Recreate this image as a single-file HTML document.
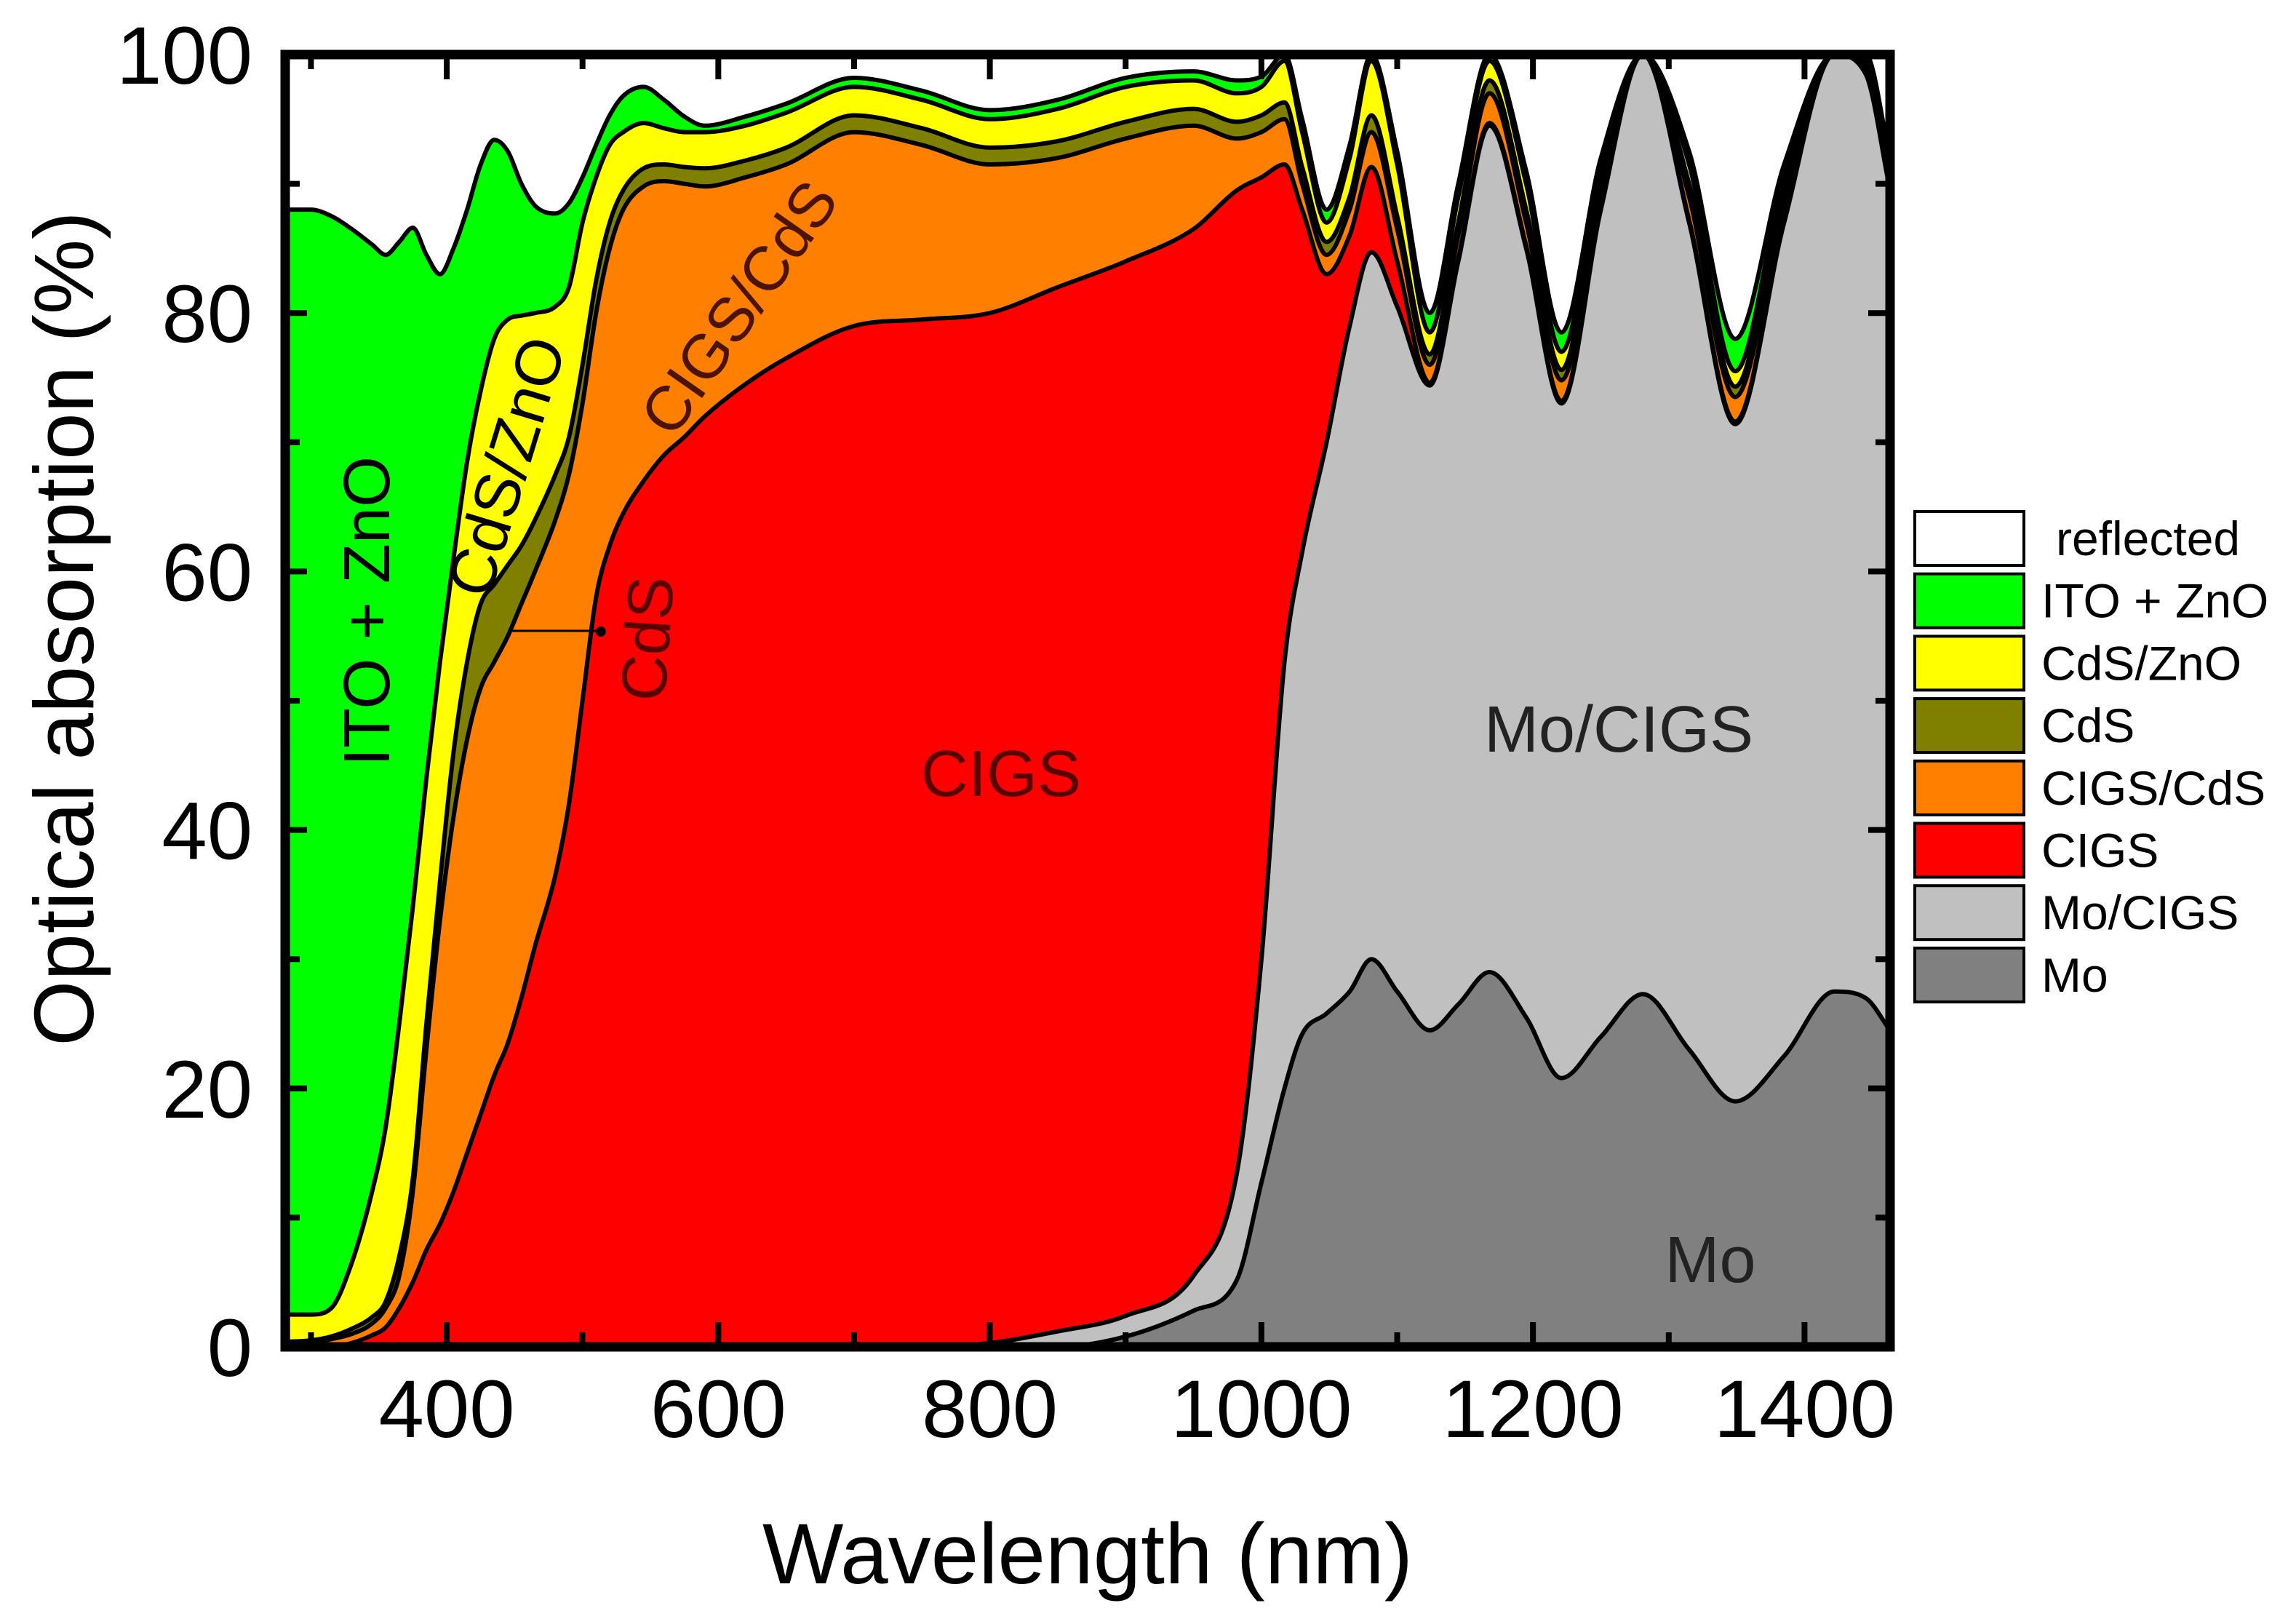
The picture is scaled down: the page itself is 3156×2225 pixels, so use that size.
<!DOCTYPE html>
<html><head><meta charset="utf-8"><style>
html,body{margin:0;padding:0;background:#fff;}
svg{display:block;font-family:"Liberation Sans",Arial,sans-serif;}
</style></head><body>
<svg id="chart" width="3156" height="2225" viewBox="0 0 3156 2225" xmlns="http://www.w3.org/2000/svg">
<defs><clipPath id="plotClip"><rect x="392" y="75" width="2206" height="1776"/></clipPath></defs>
<rect x="0" y="0" width="3156" height="2225" fill="#fff"/>
<g id="layers" clip-path="url(#plotClip)"></g>
<g id="annot">
  <text x="0" y="0" transform="translate(535,840) rotate(-90)" font-size="90" text-anchor="middle" fill="#000">ITO + ZnO</text>
  <text x="0" y="0" transform="translate(725,650) rotate(-73)" font-size="88" text-anchor="middle" fill="#000">CdS/ZnO</text>
  <text x="0" y="0" transform="translate(1040,440) rotate(-55)" font-size="86" text-anchor="middle" fill="#4a1400">CIGS/CdS</text>
  <text x="0" y="0" transform="translate(920,880) rotate(-86)" font-size="88" text-anchor="middle" fill="#5a0000">CdS</text>
  <line x1="702" y1="867" x2="822" y2="867" stroke="#000" stroke-width="3"/>
  <circle cx="826" cy="868" r="7" fill="#000"/>
  <text x="1376" y="1094" font-size="90" text-anchor="middle" fill="#5a0000">CIGS</text>
  <text x="2225" y="1033" font-size="90" text-anchor="middle" fill="#222">Mo/CIGS</text>
  <text x="2351" y="1762" font-size="90" text-anchor="middle" fill="#222">Mo</text>
</g>
<g id="axes"></g>
<text transform="translate(128,864) rotate(-90)" font-size="116" text-anchor="middle" fill="#000">Optical absorption (%)</text>
<text x="1495" y="2176" font-size="118" text-anchor="middle" fill="#000">Wavelength (nm)</text>
<g id="legend"></g>
</svg>
<script>
const wavelengths = [283,300,315,330,345,355,365,375,385,395,405,415,425,435,445,455,465,480,490,500,510,520,530,545,560,575,590,620,650,700,750,800,850,900,950,982,1000,1017,1030,1048,1065,1081,1100,1124,1145,1168,1195,1221,1250,1281,1315,1349,1385,1422,1445,1463];
const moTop = [0,0,0,0,0,0,0,0,0,0,0,0,0,0,0,0,0,0,0,0,0,0,0,0,0,0,0,0,0,0,0,0,0,0.8,2.8,5.2,12.7,20,24.2,25.8,27.5,30,27.5,24.5,26.5,29,25.5,20.8,24,27.3,23,19,22.5,27.5,27,24.5];
const moCigsTop = [0,0,0,0,0,0,0,0,0,0,0,0,0,0,0,0,0,0,0,0,0,0,0,0,0,0,0,0,0,0,0,0.3,1.2,2.4,5.5,13.5,30,53,61.5,70,79,84.7,80.5,74.4,84,94.5,85,73,88,100,87,71.4,87,100,98.5,89.5];
const cigsTop = [0,0,0,0.3,0.9,1.5,3,5,7.5,9.5,12,15,18,21,23.5,27,31,36.5,42,50,58,62,64.5,67,69,70.4,72,74.5,76.5,79,79.5,80,82,84,86.5,89.5,90.5,91.5,88,83,86,91.3,84,74.6,84.2,94.7,85.2,73.2,88.2,100,87.2,71.6,87.2,100,98.7,89.7];
const cigsCdsTop = [0.2,0.3,0.6,1.0,1.8,3,5.5,12,23,33,41,47,51,53,55,57.5,60,64,67.5,73,80,85,88,89.8,90.2,90,89.8,90.5,91.5,94,93,91.5,92,93.5,94.5,93.5,94,95,90,84.5,88,94,86.5,76,86,97,87,74.8,89,100,89,73.5,88.5,100,99,90];
const cdsTop = [0.4,0.5,0.8,1.4,2.3,3.5,7,13,25,36,46,53,57.5,59,60.5,62,64,67.5,70.4,76,82.5,87,89.5,91.2,91.5,91.3,91.2,91.8,92.8,95.3,94.3,92.8,93.3,94.8,95.8,94.8,95.3,96.3,91.3,85.5,89,95.3,87.5,76.8,87,98,88,75.6,90,100,90,74.3,89.5,100,99.5,90.5];
const cdsZnoTop = [2.5,2.5,3,6.5,12,17,25,34,44,53,61,68.5,74,78,79.5,79.8,80,80.5,82,87,90.5,93,94,94.7,94.3,94,94,94.5,95.5,97.5,96.5,95,95.8,97.5,98,97,97.5,99.5,94,87,92,99.5,91.5,78.5,89,99.5,90,77,91,100,91.5,75.5,90.5,100,100,91];
const itoZnoTop = [88,88,87.5,86.5,85.3,84.5,85.5,86.6,84.5,83,85,88,91.5,93.4,92.5,90,88.3,87.7,88.5,90.5,93,95.3,96.8,97.5,96.5,95.2,94.5,95.2,96.2,98.2,97.2,95.7,96.5,98.2,98.7,98,98.3,100,95,88,93,100,92.5,80,90,100,91,78.5,92,100,92.5,78,91.5,100,100,92];
const xTicks = [400,600,800,1000,1200,1400];
const xMinor = [300,500,700,900,1100,1300];
const yTicks = [0,20,40,60,80,100];
const yMinor = [10,30,50,70,90];
const legendLabels = ["reflected","ITO + ZnO","CdS/ZnO","CdS","CIGS/CdS","CIGS","Mo/CIGS","Mo"];

const NS = "http://www.w3.org/2000/svg";
const L = 392, R = 2598, T = 75, B = 1851;
const xMin = 281, xMax = 1463;
function xs(v){ return L + (v - xMin) / (xMax - xMin) * (R - L); }
function ys(v){ return B - v / 100 * (B - T); }
function mk(tag, attrs, parent){ const e = document.createElementNS(NS, tag); for (const k in attrs) e.setAttribute(k, attrs[k]); parent.appendChild(e); return e; }

function smoothPath(px, py){
  const n = px.length, d = [], m = [];
  for (let i=0;i<n-1;i++) d.push((py[i+1]-py[i])/(px[i+1]-px[i]));
  m[0]=d[0]; m[n-1]=d[n-2];
  for (let i=1;i<n-1;i++){ m[i] = (d[i-1]*d[i] <= 0) ? 0 : (d[i-1]+d[i])/2; }
  for (let i=0;i<n-1;i++){
    if (d[i]===0){ m[i]=0; m[i+1]=0; continue; }
    const a=m[i]/d[i], b=m[i+1]/d[i], s=a*a+b*b;
    if (s>9){ const t=3/Math.sqrt(s); m[i]=t*a*d[i]; m[i+1]=t*b*d[i]; }
  }
  let p = "M"+px[0].toFixed(1)+","+py[0].toFixed(1);
  for (let i=0;i<n-1;i++){
    const h = (px[i+1]-px[i])/3;
    p += " C"+(px[i]+h).toFixed(1)+","+(py[i]+m[i]*h).toFixed(1)+" "+(px[i+1]-h).toFixed(1)+","+(py[i+1]-m[i+1]*h).toFixed(1)+" "+px[i+1].toFixed(1)+","+py[i+1].toFixed(1);
  }
  return p;
}

const layers = document.getElementById("layers");
const series = [
  {name:"area-ito-zno", vals:itoZnoTop, fill:"#00ff00"},
  {name:"area-cds-zno", vals:cdsZnoTop, fill:"#ffff00"},
  {name:"area-cds", vals:cdsTop, fill:"#808000"},
  {name:"area-cigs-cds", vals:cigsCdsTop, fill:"#ff8000"},
  {name:"area-cigs", vals:cigsTop, fill:"#ff0000"},
  {name:"area-mo-cigs", vals:moCigsTop, fill:"#c0c0c0"},
  {name:"area-mo", vals:moTop, fill:"#808080"}
];
const pxArr = wavelengths.map(xs);
series.forEach(s => {
  const pyArr = s.vals.map(ys);
  const line = smoothPath(pxArr, pyArr);
  const area = line + " L"+pxArr[pxArr.length-1]+","+(B+20)+" L"+pxArr[0]+","+(B+20)+" Z";
  const a = mk("path", {d:area, fill:s.fill, stroke:"#000", "stroke-width":6, "stroke-linejoin":"round"}, layers);
  
  
});

const axes = document.getElementById("axes");
const frame = mk("rect", {x:L, y:T, width:R-L, height:B-T, fill:"none", stroke:"#000", "stroke-width":13}, axes);


xTicks.forEach(v => {
  const x = xs(v);
  const t1 = mk("line", {x1:x, y1:B, x2:x, y2:B-34, stroke:"#000", "stroke-width":8}, axes);
  
  
  const t2 = mk("line", {x1:x, y1:T, x2:x, y2:T+34, stroke:"#000", "stroke-width":8}, axes);
  
  
  const lb = mk("text", {x:x, y:1975, "font-size":112, "text-anchor":"middle", fill:"#000"}, axes);
  lb.textContent = v;
  
  
});
xMinor.forEach(v => {
  const x = xs(v);
  const t1 = mk("line", {x1:x, y1:B, x2:x, y2:B-20, stroke:"#000", "stroke-width":8}, axes);
  
  
  const t2 = mk("line", {x1:x, y1:T, x2:x, y2:T+20, stroke:"#000", "stroke-width":8}, axes);
  
  
});
yTicks.forEach(v => {
  const y = ys(v);
  const t1 = mk("line", {x1:L, y1:y, x2:L+30, y2:y, stroke:"#000", "stroke-width":8}, axes);
  
  
  const t2 = mk("line", {x1:R, y1:y, x2:R-30, y2:y, stroke:"#000", "stroke-width":8}, axes);
  
  
  const lb = mk("text", {x:347, y:y+40, "font-size":112, "text-anchor":"end", fill:"#000"}, axes);
  lb.textContent = v;
  
  
});
yMinor.forEach(v => {
  const y = ys(v);
  const t1 = mk("line", {x1:L, y1:y, x2:L+20, y2:y, stroke:"#000", "stroke-width":8}, axes);
  
  
  const t2 = mk("line", {x1:R, y1:y, x2:R-20, y2:y, stroke:"#000", "stroke-width":8}, axes);
  
  
});

const legend = document.getElementById("legend");
const legendColors = ["#ffffff","#00ff00","#ffff00","#808000","#ff8000","#ff0000","#c0c0c0","#808080"];
legendLabels.forEach((lab, i) => {
  const y0 = 703 + i * 85.7;
  const box = mk("rect", {x:2632, y:y0, width:150, height:74, fill:legendColors[i], stroke:"#000", "stroke-width":4}, legend);
  
  
  const t = mk("text", {x: i===0 ? 2826 : 2806, y:y0+60, "font-size":66, fill:"#000"}, legend);
  t.textContent = lab;
  
  
});
</script>
</body></html>
